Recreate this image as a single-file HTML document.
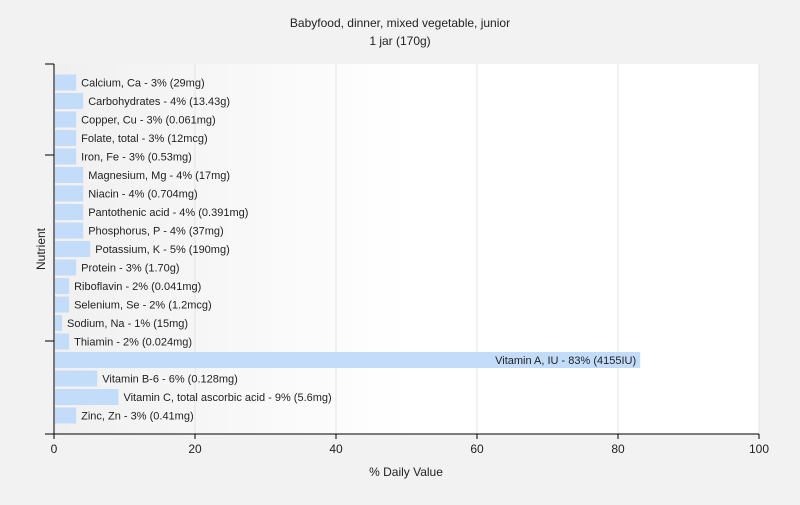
<!DOCTYPE html>
<html><head><meta charset="utf-8"><style>
body{margin:0;background:#f2f2f2;font-family:"Liberation Sans",sans-serif;}
svg text{font-family:"Liberation Sans",sans-serif;}
</style></head><body>
<svg id="chart" width="800" height="500" xmlns="http://www.w3.org/2000/svg">
<defs><linearGradient id="bg" x1="0" x2="1" y1="0" y2="0"><stop offset="0" stop-color="#f0f0f0"/><stop offset="0.5" stop-color="#ffffff"/><stop offset="1" stop-color="#ffffff"/></linearGradient></defs>
<rect width="800" height="500" fill="#f2f2f2"/>
<text x="400" y="27" text-anchor="middle" font-size="12" fill="#222">Babyfood, dinner, mixed vegetable, junior</text>
<text x="400" y="45" text-anchor="middle" font-size="12" fill="#222">1 jar (170g)</text>
<rect x="54" y="64" width="705" height="370" fill="url(#bg)"/>
<g id="grid"></g><g id="bars"></g><g id="axes"></g>
<text x="406" y="476" text-anchor="middle" font-size="12" fill="#222">% Daily Value</text>
<text transform="translate(45,249) rotate(-90)" text-anchor="middle" font-size="12" fill="#222">Nutrient</text>
</svg>
<script>
const categories=["Calcium, Ca","Carbohydrates","Copper, Cu","Folate, total","Iron, Fe","Magnesium, Mg","Niacin","Pantothenic acid","Phosphorus, P","Potassium, K","Protein","Riboflavin","Selenium, Se","Sodium, Na","Thiamin","Vitamin A, IU","Vitamin B-6","Vitamin C, total ascorbic acid","Zinc, Zn"];
const values=[3,4,3,3,3,4,4,4,4,5,3,2,2,1,2,83,6,9,3];
const amounts=["29mg","13.43g","0.061mg","12mcg","0.53mg","17mg","0.704mg","0.391mg","37mg","190mg","1.70g","0.041mg","1.2mcg","15mg","0.024mg","4155IU","0.128mg","5.6mg","0.41mg"];
const xTicks=[0,20,40,60,80,100];
const NS="http://www.w3.org/2000/svg";
const x0=54,x1=759,yTop=64,yBot=434;
const xs=v=>x0+(v/100)*(x1-x0);
const band=(yBot-yTop)/(categories.length+1);
const ys=i=>yTop+band*(i+1);
function mk(t,a,p){const e=document.createElementNS(NS,t);for(const k in a)e.setAttribute(k,a[k]);p.appendChild(e);return e;}
const grid=document.getElementById('grid'),bars=document.getElementById('bars'),axes=document.getElementById('axes');
xTicks.forEach(t=>{
 if(t>0){const g=mk('line',{x1:xs(t),x2:xs(t),y1:yTop,y2:yBot,stroke:'#e4e4e4'},grid);
 
 }
 const tk=mk('line',{x1:xs(t),x2:xs(t),y1:yBot,y2:yBot+5,stroke:'#000'},axes);
 
 
 const tl=mk('text',{x:xs(t),y:yBot+19,'text-anchor':'middle','font-size':12,fill:'#222'},axes);
 tl.textContent=t;
 
 
});
categories.forEach((c,i)=>{
 const y=ys(i),w=xs(values[i])-xs(0);
 const r=mk('rect',{x:x0+1,y:y-8,width:Math.max(w,1),height:16,fill:'#c2dcfa'},bars);
 
 
 const lbl=c+' - '+values[i]+'% ('+amounts[i]+')';
 const inside=values[i]>50;
 const t=mk('text',{x:inside?xs(values[i])-3:xs(values[i])+6,y:y+4,'text-anchor':inside?'end':'start','font-size':11,fill:'#222'},bars);
 t.textContent=lbl;
 
 
});
const ax=mk('line',{x1:x0,x2:x0,y1:yTop,y2:yBot,stroke:'#000'},axes);


const bx=mk('line',{x1:x0,x2:x1,y1:yBot,y2:yBot,stroke:'#000'},axes);


[yTop,155,341,yBot].forEach((y,k)=>{
 const t=mk('line',{x1:x0-9,x2:x0,y1:y,y2:y,stroke:'#000'},axes);
 
 
});
</script>
</body></html>
